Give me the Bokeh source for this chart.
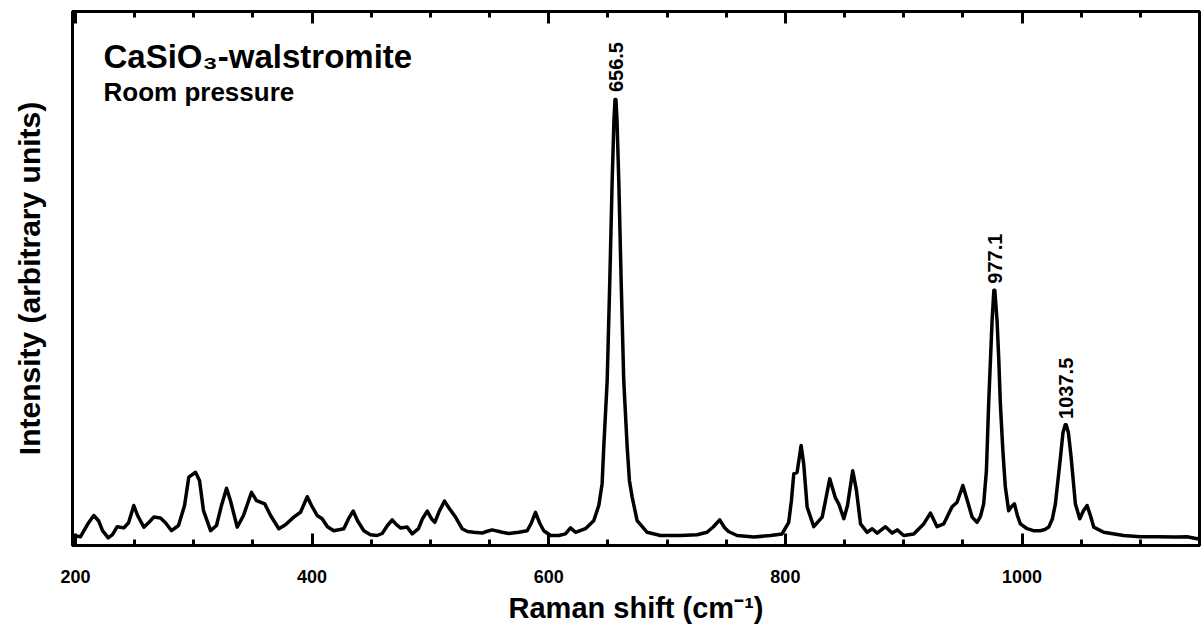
from bokeh.plotting import figure
from bokeh.models import (Range1d, SingleIntervalTicker, FixedTicker, LinearAxis,
                          CustomJSTickFormatter, Label, ColumnDataSource)
from bokeh.core.properties import value
from bokeh.embed import file_html
from bokeh.resources import INLINE
import numpy as np

# Raman shift (cm^-1)
shift = [197.5, 204.3, 211.1, 215.5, 219.5, 222.9, 227.7, 231.3, 235.3, 240.9,
         244.9, 249.3, 252.5, 257.8, 261.8, 266.2, 271.9, 276.1, 281.2, 287.1,
         292.2, 295.8, 301.5, 304.9, 308.2, 314.2, 319.2, 323.4, 327.7, 331.0,
         336.7, 342.0, 348.8, 353.0, 360.0, 364.9, 371.9, 377.5, 384.5, 390.2,
         395.9, 399.5, 404.3, 408.5, 413.0, 418.3, 426.8, 430.8, 434.7, 438.4,
         443.7, 449.3, 455.0, 459.2, 463.7, 467.7, 471.3, 474.7, 480.4, 484.6,
         489.9, 493.3, 497.3, 500.9, 503.7, 507.7, 511.9, 516.1, 521.2, 526.8,
         531.3, 536.6, 543.7, 547.4, 552.2, 560.6, 566.2, 574.7, 581.8, 585.4,
         588.8, 592.2, 595.8, 601.5, 608.5, 614.1, 618.4, 622.6, 631.0, 638.0,
         642.3, 645.1, 646.5, 649.4, 651.6, 653.6, 655.1, 656.0, 656.8, 657.7, 659.2,
         661.2, 663.4, 666.3, 668.2, 670.5, 674.7, 683.2, 694.4, 711.3, 725.4,
         733.8, 739.2, 744.5, 748.5, 751.9, 759.2, 773.3, 787.4, 797.2, 802.8,
         805.1, 807.1, 809.9, 813.3, 815.5, 818.4, 824.0, 831.1, 833.9, 837.5,
         842.3, 845.1, 849.4, 852.5, 856.9, 860.1, 863.5, 869.1, 873.4, 877.6,
         884.6, 890.2, 894.5, 900.0, 908.5, 916.9, 922.6, 928.2, 933.8, 940.9,
         945.1, 950.0, 953.8, 957.8, 962.0, 964.8, 967.6, 969.9, 971.8, 973.3,
         974.7, 976.2, 977.0, 978.9, 980.4, 981.7, 983.8, 985.9, 988.7, 991.0, 993.6,
         996.1, 998.6, 1004.3, 1009.6, 1015.5, 1019.3, 1022.6, 1025.7, 1028.2, 1032.5,
         1034.6, 1036.5, 1037.3, 1039.2, 1041.5, 1045.1, 1048.8, 1051.9, 1055.0, 1057.8, 1060.6,
         1069.0, 1085.9, 1100.0, 1114.1, 1129.6, 1139.5, 1147.9, 1150.0]

# Intensity (arbitrary units)
intensity = [25, 22, 57, 75, 62, 37, 19, 27, 47, 44,
             57, 100, 75, 46, 57, 71, 69, 57, 37, 50,
             100, 171, 183, 162, 87, 37, 50, 100, 143, 112,
             46, 75, 133, 112, 104, 75, 42, 52, 71, 83,
             122, 100, 75, 67, 47, 37, 42, 67, 86, 62,
             37, 27, 25, 30, 50, 64, 52, 44, 46, 29,
             42, 67, 86, 67, 58, 87, 111, 92, 71, 42,
             35, 33, 31, 35, 39, 33, 30, 33, 37, 57,
             83, 57, 37, 25, 25, 29, 44, 33, 42, 62,
             100, 154, 246, 412, 662, 912, 1062, 1115, 1115, 1062, 912,
             662, 412, 246, 162, 121, 62, 33, 25, 25, 27,
             33, 47, 64, 45, 35, 25, 21, 25, 29, 58,
             112, 179, 183, 250, 204, 96, 47, 71, 112, 167,
             119, 104, 67, 100, 187, 137, 54, 33, 42, 31,
             47, 31, 39, 25, 29, 54, 81, 47, 54, 97,
             108, 150, 112, 71, 58, 72, 104, 187, 354, 462,
             562, 638, 638, 562, 462, 354, 237, 146, 87, 97, 104,
             75, 54, 42, 37, 37, 40, 46, 67, 104, 221,
             282, 302, 302, 282, 221, 104, 67, 87, 100, 75, 46,
             33, 25, 22, 22, 21, 22, 17, 18]

peak_labels = ["656.5", "977.1", "1037.5"]
peak_pos = [656.5, 977.1, 1037.5]
peak_top = [1121, 642, 304]

title_text = "CaSiO\u2083-walstromite"
subtitle_text = "Room pressure"
x_title = "Raman shift (cm\u207b\u00b9)"
y_title = "Intensity (arbitrary units)"

FONT = "Liberation Sans"

p = figure(width=1203, height=640, output_backend="svg", toolbar_location=None,
           x_range=Range1d(197.5, 1150), y_range=Range1d(0, 1335),
           min_border_left=72, min_border_right=4, min_border_top=11,
           min_border_bottom=95, background_fill_color="white",
           border_fill_color="white")
p.grid.visible = False
p.outline_line_color = "black"
p.outline_line_width = 3

p.line(shift, intensity, line_color="black", line_width=3.5, line_join="round")

src = ColumnDataSource(dict(x=peak_pos, y=peak_top, t=peak_labels))
p.text(x="x", y="y", text="t", source=src, angle=np.pi / 2, text_align="left",
       text_baseline="middle", y_offset=-5, text_font=value(FONT),
       text_font_style="bold", text_font_size="20px", text_color="black")

# bottom axis
xa = p.xaxis[0]
xa.ticker = SingleIntervalTicker(interval=200, num_minor_ticks=4)
xa.axis_line_width = 3
xa.major_tick_line_width = 3
xa.minor_tick_line_width = 3
xa.major_tick_in = 12
xa.major_tick_out = 0
xa.minor_tick_in = 6
xa.minor_tick_out = 0
xa.major_label_standoff = 24
xa.major_label_text_font = FONT
xa.major_label_text_font_style = "bold"
xa.major_label_text_font_size = "18px"
xa.major_label_text_color = "black"
xa.axis_label = x_title
xa.axis_label_text_font = FONT
xa.axis_label_text_font_style = "bold"
xa.axis_label_text_font_size = "29px"
xa.axis_label_text_color = "black"
xa.axis_label_standoff = 6

# top axis (ticks only)
ta = LinearAxis(ticker=SingleIntervalTicker(interval=200, num_minor_ticks=4),
                formatter=CustomJSTickFormatter(code="return ''"))
ta.axis_line_width = 3
ta.major_tick_line_width = 3
ta.minor_tick_line_width = 3
ta.major_tick_in = 12
ta.major_tick_out = 0
ta.minor_tick_in = 6
ta.minor_tick_out = 0
ta.major_label_standoff = 0
p.add_layout(ta, "above")

# left axis (no ticks)
ya = p.yaxis[0]
ya.ticker = FixedTicker(ticks=[])
ya.axis_line_width = 3
ya.major_tick_out = 0
ya.major_tick_in = 0
ya.minor_tick_out = 0
ya.minor_tick_in = 0
ya.major_label_standoff = 0
ya.axis_label = y_title
ya.axis_label_text_font = FONT
ya.axis_label_text_font_style = "bold"
ya.axis_label_text_font_size = "30px"
ya.axis_label_text_color = "black"
ya.axis_label_standoff = 27

p.add_layout(Label(x=223.7, y=1222, text=title_text, text_font=FONT,
                   text_font_style="bold", text_font_size="33px",
                   text_color="black", text_baseline="alphabetic"))
p.add_layout(Label(x=223.7, y=1134, text=subtitle_text, text_font=FONT,
                   text_font_style="bold", text_font_size="26px",
                   text_color="black", text_baseline="alphabetic"))

open("out.html", "w").write(file_html(p, INLINE))
